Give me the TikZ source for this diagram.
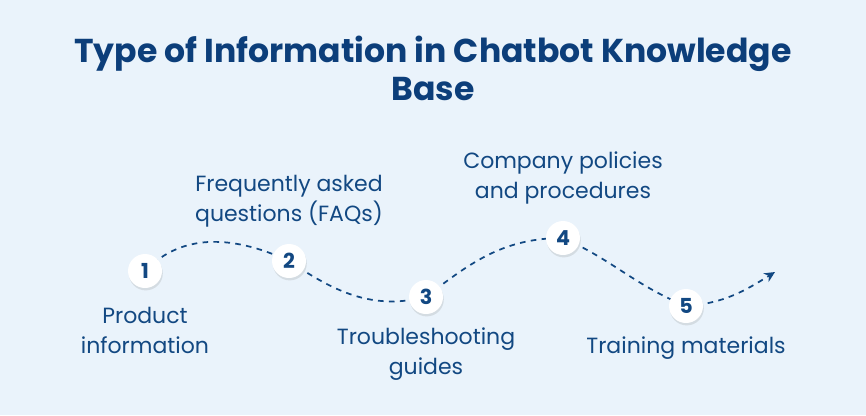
\documentclass[tikz,border=0pt]{standalone}
\usepackage{fontspec}
\setmainfont{Poppins}
\usetikzlibrary{arrows.meta,shadows}
\definecolor{kbback}{RGB}{234,243,251}
\definecolor{kbtitle}{RGB}{12,62,122}
\definecolor{kbblue}{RGB}{18,72,130}
\tikzset{
  stepdot/.style={circle, fill=white, draw=none, minimum size=25.5pt, inner sep=0pt,
                  font=\fontsize{15.5}{15.5}\selectfont\bfseries, text=kbblue,
                  drop shadow={opacity=0.2, shadow xshift=0.6pt, shadow yshift=-1.8pt}},
  lbl/.style={align=center, text=kbblue, font=\fontsize{16.5}{22.5}\selectfont},
  wave/.style={kbblue, line width=1.3pt, dash pattern=on 4.2pt off 4pt},
  wavearr/.style={wave, -{Stealth[length=8pt, width=7.5pt]}},
}

\begin{document}
\begin{tikzpicture}[x=0.75pt, y=-0.75pt]
    \fill[kbback] (0,0) rectangle (866,415);
    \useasboundingbox (0,0) rectangle (866,415);
    \node[align=center, text=kbtitle, font=\fontsize{24.8}{28.5}\selectfont\bfseries]
      (title) at (433,68) {Type of Information in Chatbot Knowledge\\Base};
    % curve first, so the dots sit on top
    \coordinate (c1) at (145,271);
    \coordinate (c2) at (289,261);
    \coordinate (c3) at (426,297);
    \coordinate (c4) at (563,238);
    \coordinate (c5) at (686,306);
    \coordinate (tip) at (775,272);
    \draw[wave] (c1) to[out=46, in=155] (c2);
    \draw[wave] (c2) to[out=-34, in=-166] (c3);
    \draw[wave] (c3) to[out=38, in=180] (c4);
    \draw[wave] (c4) to[out=-24, in=158] (c5);
    \draw[wavearr] (c5) to[out=4, in=212] (tip);
    \node[stepdot] (s1) at (c1) {1};
    \node[stepdot] (s2) at (c2) {2};
    \node[stepdot] (s3) at (c3) {3};
    \node[stepdot] (s4) at (c4) {4};
    \node[stepdot] (s5) at (c5) {5};
    \node[lbl] (t1) at (145,330) {Product\\information};
    \node[lbl] (t2) at (289,201) {Frequently asked\\questions (FAQs)};
    \node[lbl] (t3) at (426,354) {Troubleshooting\\guides};
    \node[lbl] (t4) at (563,178) {Company policies\\and procedures};
    \node[lbl] (t5) at (686,348) {Training materials};
  \end{tikzpicture}
\end{document}
